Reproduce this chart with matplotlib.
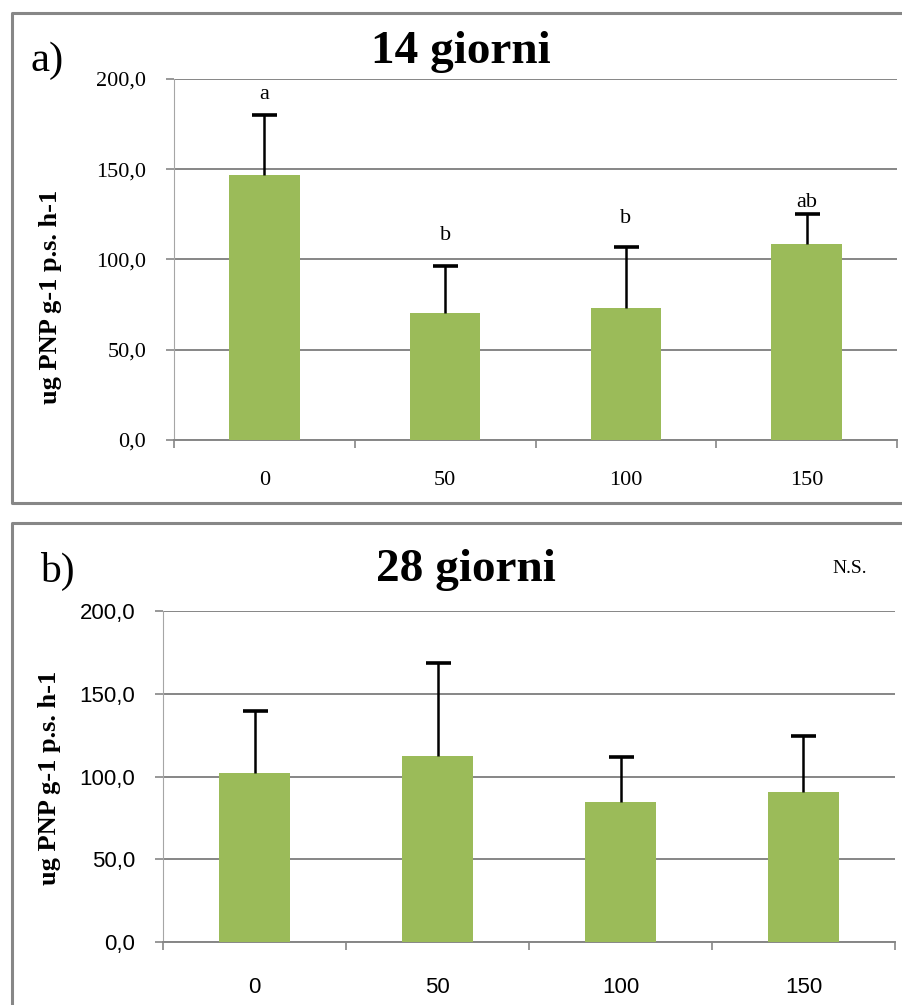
import matplotlib
matplotlib.use("Agg")
import matplotlib.pyplot as plt
from matplotlib.lines import Line2D
from matplotlib.ticker import FuncFormatter, FixedLocator

# Dose levels and enzyme activity (ug PNP g-1 p.s. h-1)
doses = ["0", "50", "100", "150"]
means_14 = [146.8, 70.5, 73.1, 108.6]
err_14 = [33.2, 26.1, 33.8, 16.6]
letters_14 = ["a", "b", "b", "ab"]
means_28 = [102.4, 112.6, 84.3, 90.4]
err_28 = [37.4, 55.7, 27.7, 34.3]

W, H = 903, 1005
bar_color = "#9BBB59"
grid_color = "#868686"
frame_color = "#878787"
serif = "Liberation Serif"
sans = "Liberation Sans"

fig = plt.figure(figsize=(W / 100, H / 100), dpi=100)


def fx(x):
    return x / W


def fy(y):
    return 1 - y / H


def comma(v, pos):
    return f"{v:.1f}".replace(".", ",")


def frame_line(xs, ys):
    fig.add_artist(Line2D([fx(v) for v in xs], [fy(v) for v in ys],
                          transform=fig.transFigure, color=frame_color,
                          linewidth=2.2, solid_capstyle="butt"))


def draw_panel(rect, means, errs, tick_font, xpad):
    ax = fig.add_axes(rect)
    x = range(len(doses))
    ax.bar(x, means, width=0.39, color=bar_color, zorder=3)
    # upper error bars only
    _, caps, _ = ax.errorbar(x, means, yerr=[[0] * len(errs), errs], fmt="none",
                             ecolor="black", elinewidth=1.8, capsize=9,
                             capthick=2.6, zorder=4)
    caps[0].set_visible(False)
    ax.set_xlim(-0.5, len(doses) - 0.5)
    ax.set_ylim(0, 200)
    ax.set_yticks([0, 50, 100, 150, 200])
    ax.yaxis.set_major_formatter(FuncFormatter(comma))
    ax.yaxis.grid(True, color=grid_color, linewidth=1.4, zorder=0)
    ax.set_axisbelow(True)
    ax.set_xticks(list(x))
    ax.set_xticklabels(doses)
    ax.xaxis.set_minor_locator(FixedLocator([i - 0.5 for i in range(len(doses) + 1)]))
    ax.tick_params(axis="x", which="major", length=0, pad=xpad)
    ax.tick_params(axis="x", which="minor", length=6, color=grid_color, width=1.2)
    ax.tick_params(axis="y", length=6, color=grid_color, width=1.2, pad=14)
    for lab in ax.get_xticklabels() + ax.get_yticklabels():
        lab.set_fontfamily(tick_font)
        lab.set_fontsize(16)
    for s in ["top", "right"]:
        ax.spines[s].set_visible(False)
    ax.spines["left"].set_color("#a6a6a6")
    ax.spines["left"].set_linewidth(0.8)
    ax.spines["bottom"].set_color(grid_color)
    ax.spines["bottom"].set_linewidth(1.4)
    return ax


# panel a) 14 giorni
ax1 = draw_panel([fx(174), fy(440), fx(897) - fx(174), fy(79) - fy(440)],
                 means_14, err_14, serif, 22)
letter_y = [189, 111, 120, 129]
for i, (l, y) in enumerate(zip(letters_14, letter_y)):
    ax1.text(i, y, l, ha="center", va="baseline", fontsize=16, family=serif)

# panel b) 28 giorni
ax2 = draw_panel([fx(163), fy(942), fx(895) - fx(163), fy(611) - fy(942)],
                 means_28, err_28, sans, 25)

# open frames around each panel (they run off the right/bottom edge)
frame_line([W, 12, 12, W], [13, 13, 503, 503])
frame_line([W, 12, 12], [523, 523, H])

# panel labels, titles and axis labels
fig.text(fx(31), fy(61), "a)", fontsize=31, family=serif, va="center")
fig.text(fx(461), fy(63), "14 giorni", fontsize=34, family=serif,
         weight="bold", ha="center", va="baseline")
fig.text(fx(40), fy(571), "b)", fontsize=30, family=serif, va="center")
fig.text(fx(466), fy(581), "28 giorni", fontsize=34, family=serif,
         weight="bold", ha="center", va="baseline")
fig.text(fx(850), fy(568), "N.S.", fontsize=14, family=serif,
         ha="center", va="center")

ylab = "ug PNP g-1 p.s. h-1"
fig.text(fx(51), fy(297), ylab, rotation=90, fontsize=19, family=serif,
         weight="bold", ha="center", va="center")
fig.text(fx(50), fy(778), ylab, rotation=90, fontsize=19, family=serif,
         weight="bold", ha="center", va="center")

fig.savefig("out.png", dpi=100)
